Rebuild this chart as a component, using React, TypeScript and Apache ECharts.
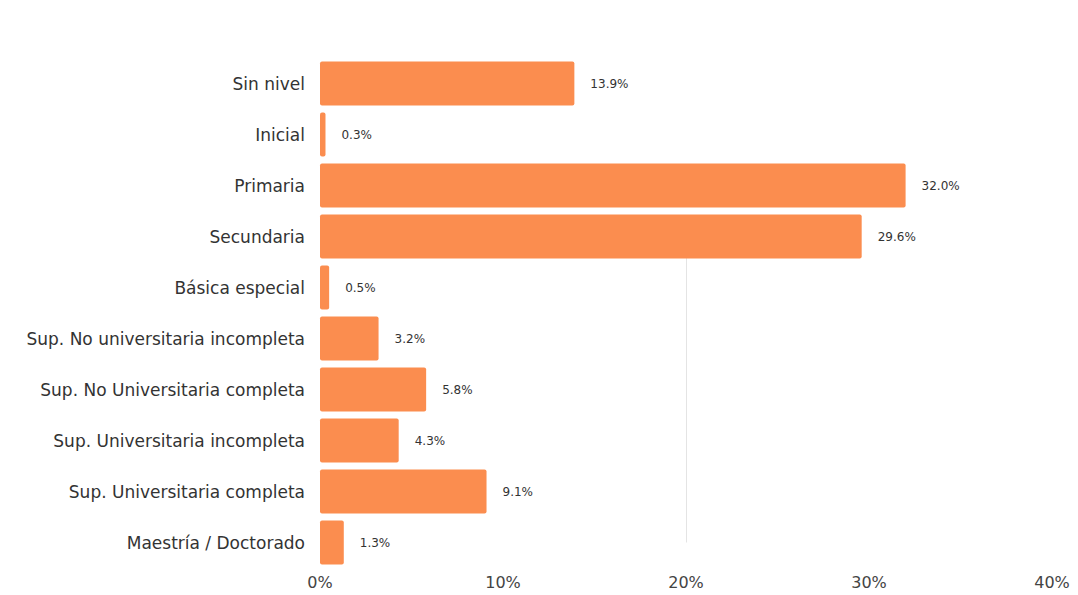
import React, { useEffect, useRef } from "react";
import * as echarts from "echarts";

const categories = [
  "Sin nivel",
  "Inicial",
  "Primaria",
  "Secundaria",
  "Básica especial",
  "Sup. No universitaria incompleta",
  "Sup. No Universitaria completa",
  "Sup. Universitaria incompleta",
  "Sup. Universitaria completa",
  "Maestría / Doctorado",
];
const values = [13.9, 0.3, 32.0, 29.6, 0.5, 3.2, 5.8, 4.3, 9.1, 1.3];
const xTicks = [0, 10, 20, 30, 40];

export default function App() {
  const ref = useRef<HTMLDivElement>(null);
  useEffect(() => {
    const chart = echarts.init(ref.current!, null, { renderer: "svg" });
    const font = "'DejaVu Sans', sans-serif";
    chart.setOption({
      animation: false,
      grid: { left: 320, right: 26, top: 58, bottom: 27, containLabel: false },
      xAxis: {
        type: "value",
        min: xTicks[0],
        max: xTicks[xTicks.length - 1],
        interval: 10,
        axisLine: { show: false },
        axisTick: { show: false },
        splitLine: { show: false },
        axisLabel: {
          formatter: "{value}%",
          fontFamily: font,
          fontSize: 16,
          color: "#444",
          margin: 6,
        },
      },
      yAxis: {
        type: "category",
        data: categories,
        inverse: true,
        axisLine: { show: false },
        axisTick: { show: false },
        axisLabel: {
          fontFamily: font,
          fontSize: 17,
          color: "#333",
          margin: 15,
        },
      },
      series: [
        {
          type: "line",
          data: [],
          z: 0,
          silent: true,
          markLine: {
            z: 0,
            silent: true,
            symbol: "none",
            label: { show: false },
            lineStyle: { color: "#e4e4e4", width: 1, type: "solid" },
            data: [[{ coord: [20, "Secundaria"] }, { coord: [20, "Maestría / Doctorado"] }]],
          },
        },
        {
          type: "bar",
          data: values,
          z: 3,
          barCategoryGap: "14%",
          itemStyle: { color: "#FB8D4F", borderRadius: 2 },
          label: {
            show: true,
            position: "right",
            distance: 16,
            formatter: (p: any) => p.value.toFixed(1) + "%",
            fontFamily: font,
            fontSize: 12,
            color: "#333",
          },
        },
      ],
    });
    return () => chart.dispose();
  }, []);
  return <div ref={ref} style={{ width: 1078, height: 595, position: "absolute", left: 0, top: 0 }} />;
}
